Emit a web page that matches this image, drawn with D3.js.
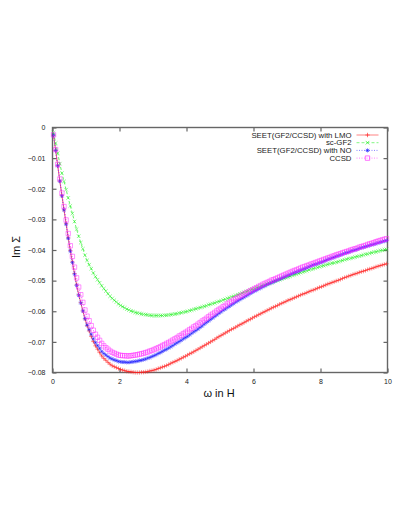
<!DOCTYPE html>
<html>
<head>
<meta charset="utf-8">
<script src="https://d3js.org/d3.v7.min.js"></script>
<style>
body { margin: 0; background: #fff; }
.chart { font-family: 'Liberation Sans', Arial, sans-serif; }
.tick-label { font-size: 7px; fill: #222; }
.key-label { font-size: 7.8px; fill: #222; }
.axis-title { font-size: 11px; fill: #111; }
</style>
</head>
<body>
<div class="chart"></div>
<script>
// Matsubara-like frequency grid (omega in Hartree), one point every 1/16
var omega = d3.range(160).map(function (n) { return (n + 0.5) / 16; });

// Im Sigma for each method
var seetLMO = [
  -.0025,-.0075,-.0125,-.0175,-.0223,-.0269,-.0314,-.0360,-.0402,-.0439,-.0477,-.0514,-.0546,-.0572,-.0599,-.0625,
  -.0647,-.0664,-.0682,-.0699,-.0713,-.0724,-.0735,-.0746,-.0754,-.0760,-.0767,-.0773,-.0778,-.0781,-.0784,-.0787,
  -.0790,-.0792,-.0794,-.0796,-.0797,-.0798,-.0799,-.0800,-.0800,-.0800,-.0799,-.0799,-.0798,-.0797,-.0795,-.0794,
  -.0792,-.0790,-.0787,-.0785,-.0782,-.0780,-.0777,-.0774,-.0770,-.0767,-.0764,-.0761,-.0757,-.0754,-.0750,-.0747,
  -.0743,-.0739,-.0736,-.0732,-.0728,-.0724,-.0720,-.0716,-.0712,-.0708,-.0704,-.0700,-.0696,-.0692,-.0687,-.0683,
  -.0679,-.0675,-.0671,-.0667,-.0663,-.0659,-.0656,-.0652,-.0648,-.0644,-.0641,-.0637,-.0633,-.0629,-.0626,-.0622,
  -.0618,-.0615,-.0611,-.0608,-.0604,-.0601,-.0597,-.0594,-.0590,-.0587,-.0584,-.0581,-.0577,-.0574,-.0571,-.0568,
  -.0564,-.0562,-.0559,-.0556,-.0553,-.0550,-.0547,-.0544,-.0542,-.0539,-.0536,-.0533,-.0531,-.0528,-.0525,-.0522,
  -.0520,-.0517,-.0514,-.0511,-.0509,-.0506,-.0504,-.0501,-.0499,-.0496,-.0493,-.0490,-.0488,-.0485,-.0483,-.0480,
  -.0478,-.0476,-.0473,-.0471,-.0469,-.0467,-.0464,-.0462,-.0460,-.0458,-.0455,-.0453,-.0451,-.0449,-.0447,-.0445
];
var scGF2 = [
  -.0017,-.0051,-.0084,-.0118,-.0149,-.0176,-.0203,-.0230,-.0256,-.0281,-.0307,-.0332,-.0355,-.0376,-.0396,-.0417,
  -.0434,-.0448,-.0461,-.0475,-.0487,-.0497,-.0507,-.0517,-.0526,-.0534,-.0543,-.0551,-.0558,-.0564,-.0570,-.0576,
  -.0581,-.0585,-.0589,-.0593,-.0596,-.0599,-.0601,-.0604,-.0606,-.0607,-.0609,-.0610,-.0611,-.0612,-.0613,-.0614,
  -.0614,-.0614,-.0614,-.0614,-.0614,-.0613,-.0613,-.0612,-.0611,-.0610,-.0609,-.0608,-.0606,-.0605,-.0603,-.0602,
  -.0600,-.0598,-.0596,-.0594,-.0592,-.0590,-.0588,-.0586,-.0584,-.0582,-.0579,-.0577,-.0575,-.0573,-.0570,-.0568,
  -.0566,-.0563,-.0561,-.0558,-.0556,-.0553,-.0551,-.0548,-.0546,-.0543,-.0541,-.0538,-.0536,-.0533,-.0531,-.0528,
  -.0526,-.0523,-.0521,-.0518,-.0516,-.0514,-.0511,-.0509,-.0507,-.0504,-.0502,-.0499,-.0497,-.0495,-.0492,-.0490,
  -.0488,-.0486,-.0483,-.0481,-.0479,-.0477,-.0474,-.0472,-.0470,-.0468,-.0465,-.0463,-.0461,-.0459,-.0457,-.0455,
  -.0453,-.0451,-.0449,-.0447,-.0445,-.0443,-.0442,-.0440,-.0438,-.0436,-.0434,-.0432,-.0430,-.0428,-.0427,-.0425,
  -.0423,-.0421,-.0420,-.0418,-.0416,-.0414,-.0413,-.0411,-.0409,-.0407,-.0406,-.0404,-.0402,-.0401,-.0399,-.0398
];
var seetNO = [
  -.0025,-.0075,-.0125,-.0175,-.0223,-.0269,-.0316,-.0362,-.0404,-.0441,-.0479,-.0516,-.0548,-.0573,-.0599,-.0624,
  -.0645,-.0660,-.0675,-.0690,-.0702,-.0712,-.0721,-.0731,-.0738,-.0743,-.0748,-.0753,-.0756,-.0759,-.0761,-.0764,
  -.0765,-.0766,-.0766,-.0767,-.0767,-.0766,-.0765,-.0764,-.0763,-.0761,-.0760,-.0758,-.0756,-.0753,-.0751,-.0748,
  -.0745,-.0742,-.0738,-.0735,-.0731,-.0727,-.0724,-.0720,-.0716,-.0712,-.0707,-.0703,-.0699,-.0695,-.0690,-.0686,
  -.0682,-.0677,-.0672,-.0667,-.0663,-.0658,-.0653,-.0648,-.0642,-.0637,-.0632,-.0627,-.0622,-.0617,-.0612,-.0607,
  -.0602,-.0597,-.0593,-.0588,-.0584,-.0579,-.0575,-.0570,-.0566,-.0562,-.0558,-.0554,-.0550,-.0546,-.0542,-.0538,
  -.0534,-.0531,-.0527,-.0524,-.0520,-.0517,-.0513,-.0510,-.0507,-.0504,-.0501,-.0498,-.0495,-.0492,-.0489,-.0486,
  -.0483,-.0480,-.0477,-.0474,-.0472,-.0469,-.0466,-.0463,-.0461,-.0458,-.0455,-.0452,-.0449,-.0447,-.0445,-.0442,
  -.0440,-.0437,-.0434,-.0431,-.0429,-.0426,-.0424,-.0421,-.0419,-.0416,-.0414,-.0411,-.0409,-.0407,-.0404,-.0402,
  -.0400,-.0398,-.0395,-.0393,-.0391,-.0389,-.0387,-.0385,-.0383,-.0381,-.0379,-.0377,-.0375,-.0373,-.0371,-.0369
];
var ccsd = [
  -.0024,-.0072,-.0120,-.0168,-.0214,-.0258,-.0302,-.0346,-.0386,-.0421,-.0456,-.0491,-.0521,-.0546,-.0571,-.0596,
  -.0616,-.0631,-.0647,-.0662,-.0675,-.0685,-.0695,-.0705,-.0713,-.0719,-.0724,-.0730,-.0734,-.0737,-.0740,-.0743,
  -.0744,-.0745,-.0745,-.0746,-.0746,-.0745,-.0744,-.0743,-.0742,-.0740,-.0739,-.0737,-.0735,-.0733,-.0730,-.0728,
  -.0725,-.0722,-.0719,-.0716,-.0712,-.0709,-.0705,-.0702,-.0698,-.0694,-.0690,-.0686,-.0681,-.0678,-.0673,-.0669,
  -.0665,-.0660,-.0656,-.0651,-.0647,-.0642,-.0637,-.0632,-.0628,-.0623,-.0618,-.0613,-.0609,-.0604,-.0599,-.0594,
  -.0590,-.0585,-.0581,-.0576,-.0571,-.0568,-.0563,-.0559,-.0555,-.0551,-.0548,-.0544,-.0540,-.0537,-.0533,-.0530,
  -.0526,-.0523,-.0519,-.0516,-.0512,-.0509,-.0506,-.0503,-.0499,-.0497,-.0494,-.0491,-.0488,-.0485,-.0482,-.0479,
  -.0476,-.0473,-.0470,-.0467,-.0465,-.0462,-.0459,-.0456,-.0454,-.0451,-.0449,-.0446,-.0444,-.0441,-.0439,-.0436,
  -.0434,-.0431,-.0429,-.0426,-.0424,-.0421,-.0419,-.0416,-.0414,-.0412,-.0409,-.0407,-.0405,-.0403,-.0400,-.0398,
  -.0396,-.0394,-.0391,-.0389,-.0387,-.0385,-.0382,-.0380,-.0378,-.0376,-.0373,-.0371,-.0369,-.0367,-.0365,-.0363
];

var xTicks = [0, 2, 4, 6, 8, 10];
var yTicks = [0, -0.01, -0.02, -0.03, -0.04, -0.05, -0.06, -0.07, -0.08];
var legendNames = ["SEET(GF2/CCSD) with LMO", "sc-GF2", "SEET(GF2/CCSD) with NO", "CCSD"];

// marker shapes, gnuplot style: +, x, *, open square
var plus = "M-2.2,0H2.2M0,-2.2V2.2";
var cross = "M-1.8,-1.8L1.8,1.8M-1.8,1.8L1.8,-1.8";
var star = "M-2,0H2M0,-2V2M-1.6,-1.6L1.6,1.6M-1.6,1.6L1.6,-1.6";
var square = "M-2.2,-2.2H2.2V2.2H-2.2Z";

var series = [
  {name: legendNames[0], values: seetLMO, color: "#ff2020", dash: null, marker: plus},
  {name: legendNames[1], values: scGF2, color: "#20f020", dash: "3,2", marker: cross},
  {name: legendNames[2], values: seetNO, color: "#2020ff", dash: "1,1.5", marker: star},
  {name: legendNames[3], values: ccsd, color: "#ff20ff", dash: "1,1.5", marker: square}
];

function buildChart(id, width, height) {
    var left = 52.5, right = 387.5, top = 127.5, bottom = 372.5;

    var x = d3.scaleLinear().domain([0, 10]).range([left, right]);
    var y = d3.scaleLinear().domain([-0.08, 0]).range([bottom, top]);

    var svg = d3.select(id).append("svg")
        .attr("width", width)
        .attr("height", height);

    svg.append("rect")
        .attr("width", width).attr("height", height)
        .attr("fill", "#fff");

    // axes drawn on all four sides, ticks pointing inward
    var axisStyle = function (g) {
        g.select(".domain").remove();
        g.selectAll(".tick line").attr("stroke", "#666").attr("stroke-width", 1.2);
        g.selectAll(".tick text").attr("class", "tick-label")
            .style("font-family", "'Liberation Sans', Arial, sans-serif")
            .style("font-size", "7px").attr("fill", "#222");
    };

    svg.append("g")
        .attr("transform", "translate(0," + bottom + ")")
        .call(d3.axisBottom(x).tickValues(xTicks).tickSize(-4).tickPadding(7).tickFormat(d3.format("d")))
        .call(axisStyle);
    svg.append("g")
        .attr("transform", "translate(0," + top + ")")
        .call(d3.axisTop(x).tickValues(xTicks).tickSize(-4).tickFormat(""))
        .call(axisStyle);
    svg.append("g")
        .attr("transform", "translate(" + left + ",0)")
        .call(d3.axisLeft(y).tickValues(yTicks).tickSize(-4).tickPadding(7)
            .tickFormat(function (d) { return d === 0 ? "0" : d3.format(".2f")(d); }))
        .call(axisStyle);
    svg.append("g")
        .attr("transform", "translate(" + right + ",0)")
        .call(d3.axisRight(y).tickValues(yTicks).tickSize(-4).tickFormat(""))
        .call(axisStyle);

    // border
    svg.append("rect")
        .attr("x", left).attr("y", top)
        .attr("width", right - left).attr("height", bottom - top)
        .attr("fill", "none")
        .attr("stroke", "#666")
        .attr("stroke-width", 1.4);

    var line = d3.line()
        .x(function (d) { return x(d[0]); })
        .y(function (d) { return y(d[1]); });

    series.forEach(function (s) {
        var pts = omega.map(function (w, i) { return [w, s.values[i]]; });
        var g = svg.append("g");
        g.append("path")
            .datum(pts)
            .attr("d", line)
            .attr("fill", "none")
            .attr("stroke", s.color)
            .attr("stroke-width", 0.7)
            .attr("stroke-dasharray", s.dash);
        g.selectAll(".pt")
            .data(pts)
            .enter().append("path")
            .attr("class", "pt")
            .attr("transform", function (d) { return "translate(" + x(d[0]) + "," + y(d[1]) + ")"; })
            .attr("d", s.marker)
            .attr("fill", "none")
            .attr("stroke", s.color)
            .attr("stroke-opacity", 0.65)
            .attr("stroke-width", 0.75);
    });

    // key, top right
    var key = svg.append("g");
    series.forEach(function (s, i) {
        var ky = 135 + i * 7.7;
        key.append("text")
            .attr("class", "key-label")
            .attr("x", 351.5).attr("y", ky)
            .attr("dy", ".35em")
            .attr("text-anchor", "end")
            .text(s.name);
        key.append("line")
            .attr("x1", 356.5).attr("x2", 378.5)
            .attr("y1", ky).attr("y2", ky)
            .attr("stroke", s.color)
            .attr("stroke-opacity", 0.7)
            .attr("stroke-width", 0.8)
            .attr("stroke-dasharray", s.dash);
        key.append("path")
            .attr("transform", "translate(367.5," + ky + ")")
            .attr("d", s.marker)
            .attr("fill", "none")
            .attr("stroke", s.color)
            .attr("stroke-opacity", 0.8)
            .attr("stroke-width", 0.8);
    });

    // axis titles
    svg.append("text")
        .attr("class", "axis-title")
        .attr("transform", "translate(20,247) rotate(-90)")
        .attr("text-anchor", "middle")
        .text("Im \u03A3");

    svg.append("text")
        .attr("class", "axis-title")
        .attr("x", 219).attr("y", 397)
        .attr("text-anchor", "middle")
        .text("\u03C9 in H");
}

buildChart(".chart", 399, 516);
</script>
</body>
</html>
